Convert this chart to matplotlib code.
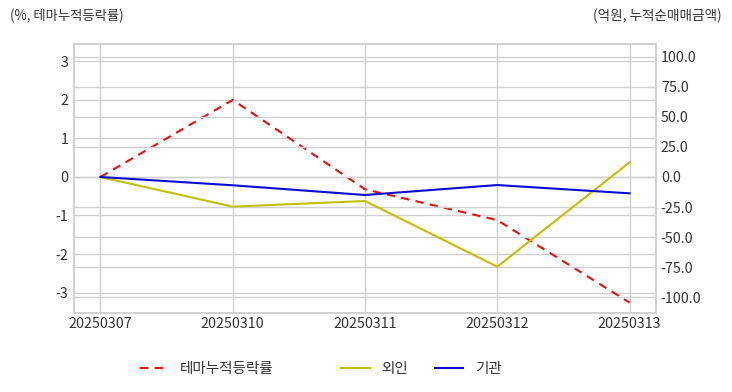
import matplotlib
matplotlib.use("Agg")
import matplotlib.pyplot as plt
from matplotlib.lines import Line2D
from matplotlib.ticker import FuncFormatter

plt.rcParams['font.family'] = ['Noto Sans CJK KR', 'DejaVu Sans']
plt.rcParams['axes.unicode_minus'] = False

dates = ["20250307", "20250310", "20250311", "20250312", "20250313"]
theme_ret = [0.0, 2.0, -0.32, -1.12, -3.26]
foreign = [0.0, -24.7, -20.0, -74.7, 12.2]
institution = [0.0, -6.9, -15.0, -6.7, -13.6]

left_ticks = [-3, -2, -1, 0, 1, 2, 3]
right_ticks = [-100, -75, -50, -25, 0, 25, 50, 75, 100]

grid_c = "#d0d0d0"
text_c = "#333333"

fig = plt.figure(figsize=(7.32, 3.92), dpi=100)
ax = fig.add_axes([74/732, 1-313/392, (656-74)/732, (313-44)/392])
ax2 = ax.twinx()

x = list(range(len(dates)))
ax.plot(x, theme_ret, color="#e41010", linestyle=(0, (4, 3)), linewidth=1.5, zorder=5)
ax2.plot(x, foreign, color="#c0c000", linewidth=1.5)
ax2.plot(x, institution, color="#0a0ad0", linewidth=1.5)

ax.set_xlim(-0.2, 4.2)
ax.set_ylim(-3.53, 3.45)
ax2.set_ylim(-113.3, 110.8)
ax.set_xticks(x)
ax.set_xticklabels(dates)
ax.set_yticks(left_ticks)
ax.yaxis.set_major_formatter(FuncFormatter(lambda v, p: f"{int(v)}"))
ax2.set_yticks(right_ticks)
ax2.yaxis.set_major_formatter(FuncFormatter(lambda v, p: f"{v:.1f}"))

for a in (ax, ax2):
    a.grid(True, color=grid_c, linewidth=1)
    a.set_axisbelow(True)
    a.tick_params(length=0, labelsize=10.3, colors=text_c)
    for s in a.spines.values():
        s.set_color(grid_c)
        s.set_linewidth(1.2)
ax2.grid(False, axis='x')
ax2.yaxis.grid(True, color=grid_c, linewidth=1)
ax.tick_params(axis='x', pad=3)
ax.tick_params(axis='y', pad=4)
ax2.tick_params(axis='y', pad=3.5)

fig.text(10/732, 1-16/392, "(%, 테마누적등락률)", fontsize=9.6, color=text_c, ha="left", va="center")
fig.text(722/732, 1-16/392, "(억원, 누적순매매금액)", fontsize=9.8, color=text_c, ha="right", va="center")

fs = 10.5
h1 = [Line2D([], [], color="#e41010", linestyle=(0, (4, 3)), linewidth=1.5)]
leg1 = fig.legend(h1, ["테마누적등락률"], loc="center left", bbox_to_anchor=(127/732, 1-369/392),
                  frameon=False, fontsize=fs, handlelength=1.85, handletextpad=0.9)
for t in leg1.get_texts():
    t.set_color(text_c)
h2 = [Line2D([], [], color="#c0c000", linewidth=1.5), Line2D([], [], color="#0a0ad0", linewidth=1.5)]
leg2 = fig.legend(h2, ["외인", "기관"], loc="center left", bbox_to_anchor=(328/732, 1-369/392),
                  frameon=False, fontsize=fs, ncol=2, handlelength=1.95, handletextpad=0.8, columnspacing=1.85)
for t in leg2.get_texts():
    t.set_color(text_c)

fig.savefig("out.png", dpi=100, facecolor="white")
